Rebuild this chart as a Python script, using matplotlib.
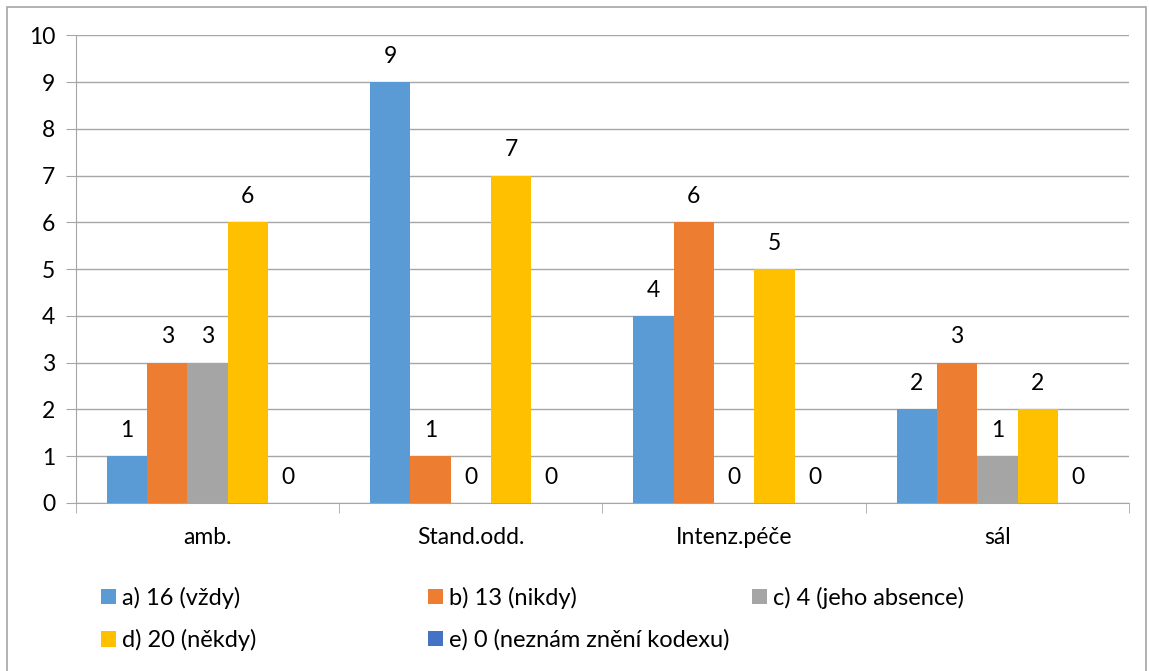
import matplotlib
matplotlib.use("Agg")
import matplotlib.pyplot as plt
from matplotlib.patches import Rectangle
import numpy as np

plt.rcParams['font.family'] = ['Lato', 'DejaVu Sans']

# data
categories = ["amb.", "Stand.odd.", "Intenz.péče", "sál"]
labels = ["a) 16 (vždy)", "b) 13 (nikdy)", "c) 4 (jeho absence)",
          "d) 20 (někdy)", "e) 0 (neznám znění kodexu)"]
values = [
    [1, 9, 4, 2],   # a
    [3, 1, 6, 3],   # b
    [3, 0, 0, 1],   # c
    [6, 7, 5, 2],   # d
    [0, 0, 0, 0],   # e
]
colors = ["#5B9BD5", "#ED7D31", "#A5A5A5", "#FFC000", "#4472C4"]

fs = 16.5

fig = plt.figure(figsize=(11.49, 6.71), dpi=100)
ax = fig.add_axes([0.0661, 0.2504, 0.9165, 0.6967])

x = np.arange(len(categories))
w = 0.153
bars = []
for i, vals in enumerate(values):
    b = ax.bar(x + (i - 2) * w, vals, w, color=colors[i], label=labels[i], zorder=3)
    bars.append(b)
    for rect, v in zip(b, vals):
        ax.annotate(str(v), (rect.get_x() + rect.get_width() / 2, v),
                    xytext=(0, 11), textcoords="offset points",
                    ha="center", va="bottom", fontsize=fs)

ax.set_xlim(-0.5, len(categories) - 0.5)
ax.set_ylim(0, 10)
ax.set_yticks(range(0, 11))
ax.yaxis.grid(True, color="#A6A6A6", linewidth=1, zorder=0)
ax.set_axisbelow(True)

ax.set_xticks(x)
ax.set_xticklabels(categories, fontsize=fs)
ax.set_xticks(np.arange(-0.5, len(categories)), minor=True)
ax.tick_params(axis="x", which="major", length=0, pad=17)
ax.tick_params(axis="x", which="minor", length=7, color="#A6A6A6", direction="out")
ax.tick_params(axis="y", length=7, color="#A6A6A6", pad=8, labelsize=fs)

for s in ["top", "right"]:
    ax.spines[s].set_visible(False)
for s in ["left", "bottom"]:
    ax.spines[s].set_color("#A6A6A6")

# legend entries placed like in the reference (equal width columns)
pos = [(0.088, 0.109), (0.3725, 0.109), (0.6545, 0.109),
       (0.088, 0.046), (0.3725, 0.046)]
for b, lab, (px, py) in zip(bars, labels, pos):
    fig.legend(handles=[b], labels=[lab], loc="center left",
               bbox_to_anchor=(px, py), frameon=False, fontsize=17,
               handlelength=0.65, handleheight=0.65, handletextpad=0.25,
               borderaxespad=0, borderpad=0)

# outer chart frame
fig.add_artist(Rectangle((7 / 1149, -0.05), 1139 / 1149, 1.05 - 7 / 671,
                         transform=fig.transFigure, fill=False,
                         edgecolor="#A6A6A6", linewidth=1.2))

fig.savefig("out.png", dpi=100)
